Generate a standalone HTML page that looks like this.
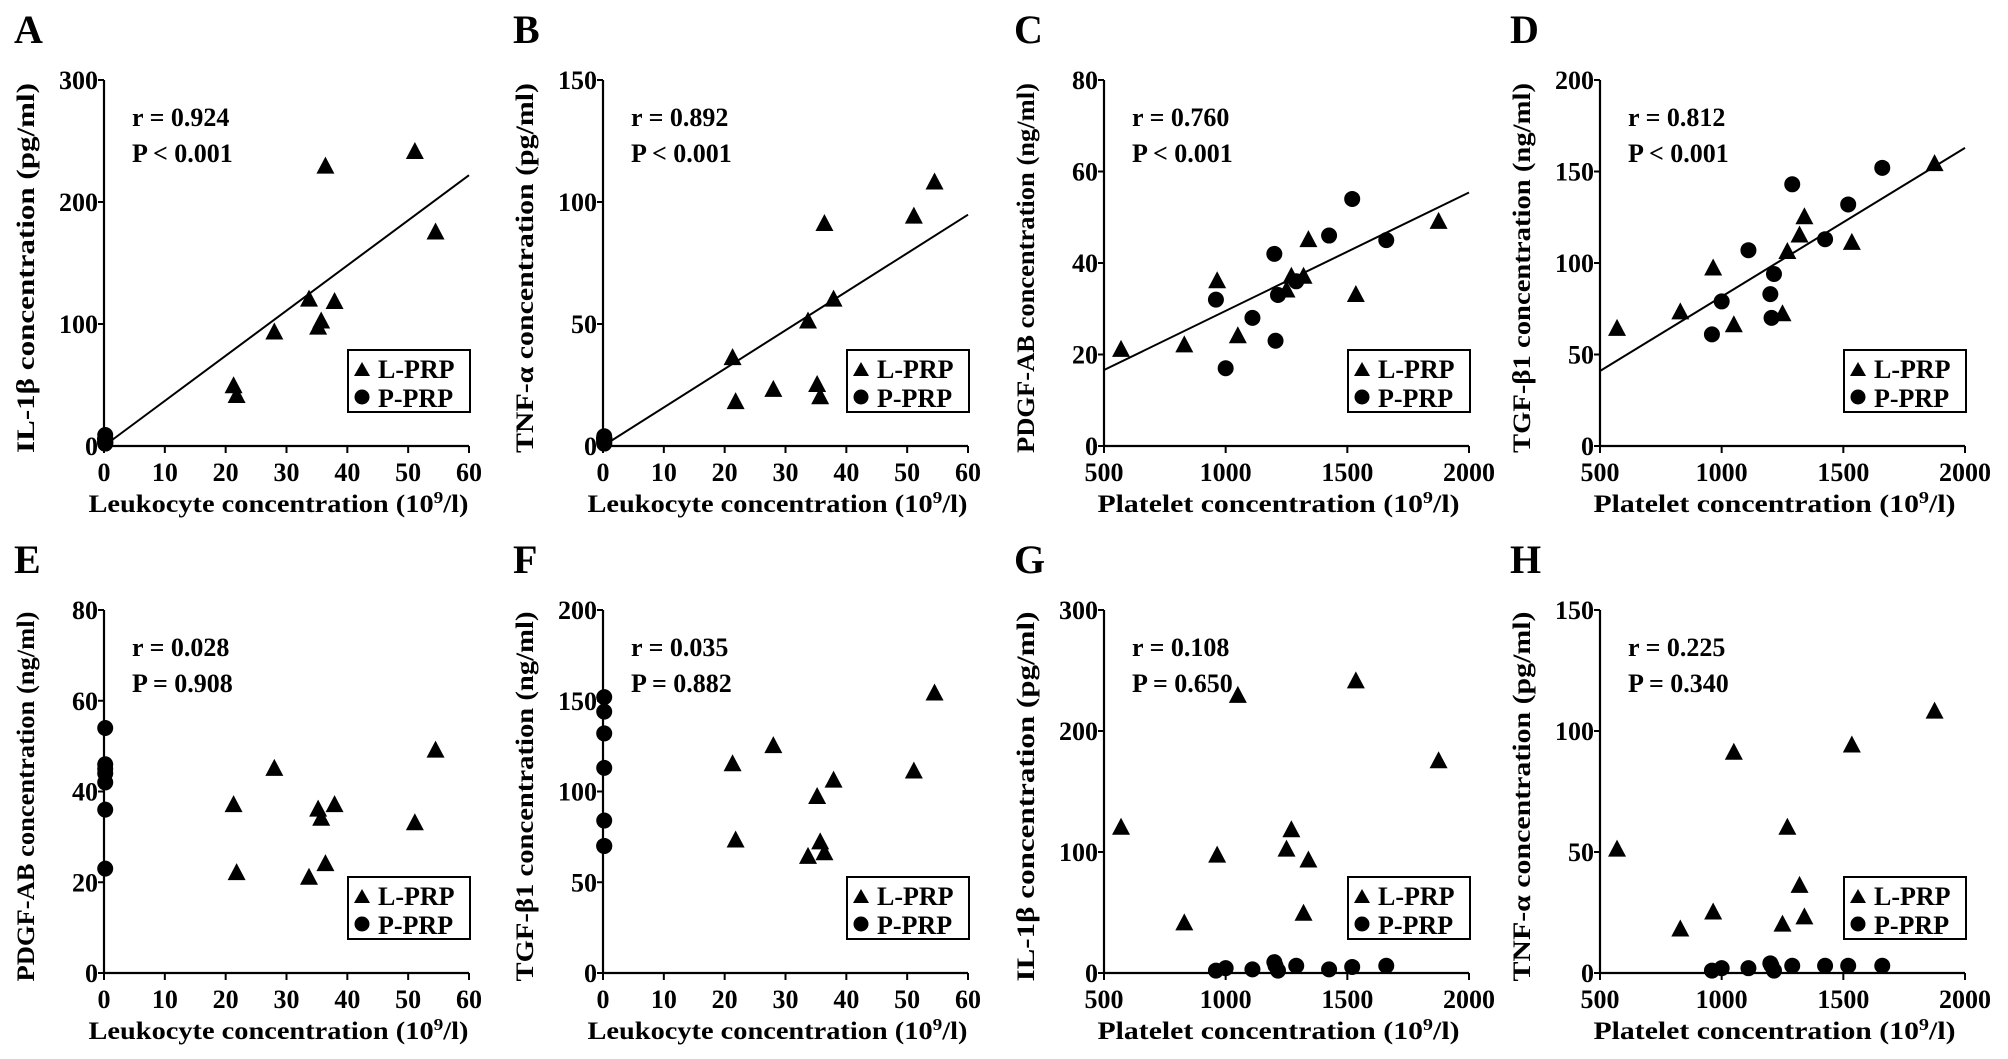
<!DOCTYPE html>
<html><head><meta charset="utf-8"><style>
html,body{margin:0;padding:0;background:#fff;}
svg{display:block;font-family:"Liberation Serif","Times New Roman",serif;font-weight:bold;}
</style></head><body>
<svg id="fig" width="2008" height="1059" viewBox="0 0 2008 1059" xmlns="http://www.w3.org/2000/svg"></svg>
<script>
// ---- data ----
const leukL = [21.3, 21.8, 28, 33.7, 35.2, 35.7, 36.4, 37.9, 51.1, 54.5];
const leukP = [0.2, 0.2, 0.2, 0.2, 0.2, 0.2, 0.2, 0.2, 0.2, 0.2];
const leukP6 = [0.2, 0.2, 0.2, 0.2, 0.2, 0.2, 0.2];
const platL = [1320, 830, 1340, 570, 965, 1250, 1050, 1270, 1535, 1875];
const platP = [960, 1000, 1110, 1200, 1205, 1215, 1290, 1425, 1520, 1660];
const il1bL = [49, 41, 93, 120, 97, 102, 229, 118, 241, 175];
const il1bP = [2, 4, 3, 9, 6, 2, 6, 3, 5, 6];
const tnfL = [36, 18, 23, 51, 25, 20, 91, 60, 94, 108];
const tnfP = [1, 2, 2, 4, 3, 1, 3, 3, 3, 3];
const pdgfL = [37, 22, 45, 21, 36, 34, 24, 37, 33, 49];
const pdgfP = [32, 17, 28, 42, 23, 33, 36, 46, 54, 45];
const pdgfPleuk = [54, 46, 45, 44, 42, 36, 23];
const tgfL = [115, 73, 125, 64, 97, 72, 66, 106, 111, 154];
const tgfP = [61, 79, 107, 83, 70, 94, 143, 113, 132, 152];
const tgfPleuk = [152, 144, 132, 113, 84, 70, 70];
const xTicksLeuk = [0, 10, 20, 30, 40, 50, 60];
const xTicksPlat = [500, 1000, 1500, 2000];
const yTicks300 = [0, 100, 200, 300];
const yTicks150 = [0, 50, 100, 150];
const yTicks80 = [0, 20, 40, 60, 80];
const yTicks200 = [0, 50, 100, 150, 200];
// fit lines: [intercept, slope]
const fitA = [0, 3.7];
const fitB = [0, 1.58];
const fitC = [3.67, 0.02587];
const fitD = [0.33, 0.0813];
const statsText = [
 ["r = 0.924","P < 0.001"],["r = 0.892","P < 0.001"],["r = 0.760","P < 0.001"],["r = 0.812","P < 0.001"],
 ["r = 0.028","P = 0.908"],["r = 0.035","P = 0.882"],["r = 0.108","P = 0.650"],["r = 0.225","P = 0.340"]];

const NS = "http://www.w3.org/2000/svg";
const svg = document.getElementById('fig');
function mk(tag, attrs, parent){const e=document.createElementNS(NS,tag);for(const k in attrs)e.setAttribute(k,attrs[k]);(parent||svg).appendChild(e);return e;}

const colX = [104, 603, 1104, 1600];
const rowT = [80, 610], rowB = [446, 973];
const W = 365;

const panels = [
 {L:'A',c:0,r:0,xl:leukL,yl:il1bL,xp:leukP,yp:il1bP,xt:xTicksLeuk,yt:yTicks300,fit:fitA,yTitle:'IL-1β concentration (pg/ml)',leuk:true},
 {L:'B',c:1,r:0,xl:leukL,yl:tnfL,xp:leukP,yp:tnfP,xt:xTicksLeuk,yt:yTicks150,fit:fitB,yTitle:'TNF-α concentration (pg/ml)',leuk:true},
 {L:'C',c:2,r:0,xl:platL,yl:pdgfL,xp:platP,yp:pdgfP,xt:xTicksPlat,yt:yTicks80,fit:fitC,yTitle:'PDGF-AB concentration (ng/ml)',leuk:false},
 {L:'D',c:3,r:0,xl:platL,yl:tgfL,xp:platP,yp:tgfP,xt:xTicksPlat,yt:yTicks200,fit:fitD,yTitle:'TGF-β1 concentration (ng/ml)',leuk:false},
 {L:'E',c:0,r:1,xl:leukL,yl:pdgfL,xp:leukP6,yp:pdgfPleuk,xt:xTicksLeuk,yt:yTicks80,fit:null,yTitle:'PDGF-AB concentration (ng/ml)',leuk:true},
 {L:'F',c:1,r:1,xl:leukL,yl:tgfL,xp:leukP6,yp:tgfPleuk,xt:xTicksLeuk,yt:yTicks200,fit:null,yTitle:'TGF-β1 concentration (ng/ml)',leuk:true},
 {L:'G',c:2,r:1,xl:platL,yl:il1bL,xp:platP,yp:il1bP,xt:xTicksPlat,yt:yTicks300,fit:null,yTitle:'IL-1β concentration (pg/ml)',leuk:false},
 {L:'H',c:3,r:1,xl:platL,yl:tnfL,xp:platP,yp:tnfP,xt:xTicksPlat,yt:yTicks150,fit:null,yTitle:'TNF-α concentration (pg/ml)',leuk:false}
];

panels.forEach((p,i)=>{
 const x0=colX[p.c], x1=x0+W, yT=rowT[p.r], yB=rowB[p.r];
 const xmin=p.xt[0], xmax=p.xt[p.xt.length-1], ymin=p.yt[0], ymax=p.yt[p.yt.length-1];
 const sx=v=>x0+(v-xmin)/(xmax-xmin)*(x1-x0);
 const sy=v=>yB-(v-ymin)/(ymax-ymin)*(yB-yT);
 const g=mk('g',{});
 
 
 const lt=mk('text',{x:x0-90,y:yT-37,'font-size':40},g); lt.textContent=p.L;
  
 const ax=mk('path',{d:`M${x0} ${yT}V${yB}H${x1}`,stroke:'#000','stroke-width':2.2,fill:'none'},g);
  
 p.xt.forEach(t=>{
  mk('line',{x1:sx(t),x2:sx(t),y1:yB,y2:yB+7,stroke:'#000','stroke-width':2},g);
  const tx=mk('text',{x:sx(t),y:yB+35,'font-size':26,'text-anchor':'middle'},g); tx.textContent=t;
   
 });
 p.yt.forEach(t=>{
  mk('line',{x1:x0-6,x2:x0,y1:sy(t),y2:sy(t),stroke:'#000','stroke-width':2},g);
  const tx=mk('text',{x:x0-6,y:sy(t)+9,'font-size':26,'text-anchor':'end'},g); tx.textContent=t;
   
 });
 const xtl=mk('text',{x:(x0+x1)/2-8,y:yB+66,'font-size':25,'text-anchor':'middle',textLength:p.leuk?380:362,lengthAdjust:'spacingAndGlyphs'},g);
 xtl.innerHTML=(p.leuk?'Leukocyte':'Platelet')+' concentration (10<tspan dy="-9" font-size="17">9</tspan><tspan dy="9">/l)</tspan>';
  
 const cy=(yT+yB)/2+5;
 const ytl=mk('text',{x:x0-70,y:cy,'font-size':25,'text-anchor':'middle',transform:`rotate(-90 ${x0-70} ${cy})`,textLength:370,lengthAdjust:'spacingAndGlyphs'},g);
 ytl.textContent=p.yTitle;
  
 const s1=mk('text',{x:x0+28,y:yT+46,'font-size':26},g); s1.textContent=statsText[i][0];
  
 const s2=mk('text',{x:x0+28,y:yT+82,'font-size':26},g); s2.textContent=statsText[i][1];
  
 if(p.fit){
  const fl=mk('line',{x1:sx(xmin),y1:sy(p.fit[0]+p.fit[1]*xmin),x2:sx(xmax),y2:sy(p.fit[0]+p.fit[1]*xmax),stroke:'#000','stroke-width':2},g);
   
 }
 p.xp.forEach((v,k)=>{
  const c=mk('circle',{cx:sx(v),cy:sy(p.yp[k]),r:8,fill:'#000'},g);
   
 });
 p.xl.forEach((v,k)=>{
  const X=sx(v),Y=sy(p.yl[k]);
  const t=mk('path',{d:`M${X} ${Y-10}L${X+9} ${Y+7}L${X-9} ${Y+7}Z`,fill:'#000'},g);
   
 });
 const lg=mk('g',{},g);
  
 const bx=x1-121, by=yB-96;
 mk('rect',{x:bx,y:by,width:122,height:62,fill:'#fff',stroke:'#000','stroke-width':2},lg);
 mk('path',{d:`M${bx+14} ${by+12}L${bx+22} ${by+26}L${bx+6} ${by+26}Z`,fill:'#000'},lg);
 mk('circle',{cx:bx+14,cy:by+47,r:7.5,fill:'#000'},lg);
 const le1=mk('text',{x:bx+30,y:by+28,'font-size':26},lg); le1.textContent='L-PRP';
  
 const le2=mk('text',{x:bx+30,y:by+57,'font-size':26},lg); le2.textContent='P-PRP';
  
});
</script>
</body></html>
